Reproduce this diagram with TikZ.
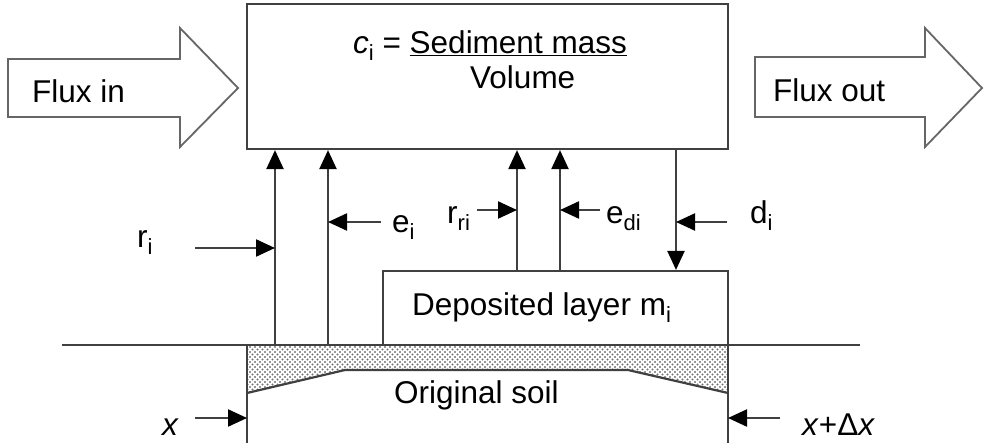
\documentclass[tikz,border=0pt]{standalone}
\usepackage{fontspec}
\setmainfont{Liberation Sans}
\usetikzlibrary{arrows.meta,patterns}
\pgfdeclarepatternformonly{sdots}{\pgfqpoint{-1.2pt}{-1.2pt}}{\pgfqpoint{4pt}{4pt}}{\pgfqpoint{5pt}{5pt}}{%
  \pgfpathcircle{\pgfqpoint{0pt}{0pt}}{1.1pt}%
  \pgfpathcircle{\pgfqpoint{2.5pt}{2.5pt}}{1.1pt}%
  \pgfusepath{fill}}
\newcommand\lsub[1]{\raisebox{-0.45ex}{\fontsize{22}{22}\selectfont #1}}
\begin{document}
\begin{tikzpicture}[x=1pt,y=-1pt,
  ln/.style={line width=2.2pt,draw=black!75},
  arr/.style={ln,-{Triangle[length=19pt,width=17pt,color=black]}},
  fat/.style={line width=1.8pt,draw=black!60,fill=white,line join=miter},
  lbl/.style={anchor=base west,inner sep=0pt,font=\fontsize{31.5}{36}\selectfont},
  boxs/.style={ln,draw,fill=white,inner sep=0pt}]
\useasboundingbox (0,0) rectangle (989,447);
% flux arrows
\draw[fat] (8,59) -- (180,59) -- (180,28) -- (238,88) -- (180,147) -- (180,117) -- (8,117) -- cycle;
\draw[fat] (755,57) -- (925,57) -- (925,28) -- (982,88) -- (925,147) -- (925,117) -- (755,117) -- cycle;
\node[lbl] (fin) at (32,102) {Flux in};
\node[lbl] (fout) at (773,101) {Flux out};
% soil
\coordinate (gl) at (62,345);
\coordinate (gr) at (860,345);
\fill[pattern=sdots,pattern color=black!55] (247,345) -- (728,345) -- (728,393) -- (628,370) -- (345,370) -- (247,393) -- cycle;
\draw[ln] (247,393) -- (345,370) -- (628,370) -- (728,393);
\draw[ln] (gl) -- (gr);
\coordinate (xl) at (247,443);
\coordinate (xr) at (728,443);
\draw[ln] (247,345) -- (xl);
\draw[ln] (728,345) -- (xr);
% boxes
\node[boxs,minimum width=481pt,minimum height=145pt] (box) at (487.5,76.5) {};
\node[boxs,minimum width=345pt,minimum height=74pt] (dep) at (555.5,308) {};
\node[lbl] (ci) at (353,53) {\textit{c}\lsub{i} = \underline{Sediment mass}};
\node[lbl] (vol) at (470,88) {Volume};
\node[lbl] (dept) at (412,315) {Deposited layer m\lsub{i}};
\node[lbl] (orig) at (394,403) {Original soil};
% vertical flux arrows
\coordinate (g1) at (275,345);
\coordinate (g2) at (328,345);
\coordinate (d1) at (517,271);
\coordinate (d2) at (560,271);
\coordinate (d3) at (676,149);
\draw[arr] (g1) -- (g1 |- box.south);
\draw[arr] (g2) -- (g2 |- box.south);
\draw[arr] (d1) -- (d1 |- box.south);
\draw[arr] (d2) -- (d2 |- box.south);
\draw[arr] (d3) -- (d3 |- dep.north);
% pointer arrows and labels
\coordinate (pr) at (195,248);
\draw[arr] (pr) -- (g1 |- pr);
\node[lbl] (ri) at (137,247) {r\lsub{i}};
\coordinate (pe) at (381,222);
\draw[arr] (pe) -- (g2 |- pe);
\node[lbl] (ei) at (392,232) {e\lsub{i}};
\coordinate (prr) at (477,210);
\draw[arr] (prr) -- (d1 |- prr);
\node[lbl] (rri) at (447,223) {r\lsub{ri}};
\coordinate (ped) at (600,210);
\draw[arr] (ped) -- (d2 |- ped);
\node[lbl] (edi) at (606,223) {e\lsub{di}};
\coordinate (pd) at (727,222);
\draw[arr] (pd) -- (d3 |- pd);
\node[lbl] (di) at (750,223) {d\lsub{i}};
\coordinate (px) at (195,418);
\draw[arr] (px) -- (xl |- px);
\node[lbl] (xlab) at (162,435) {\textit{x}};
\coordinate (pxd) at (780,418);
\draw[arr] (pxd) -- (xr |- pxd);
\node[lbl] (xdl) at (802,435) {\textit{x}+Δ\textit{x}};
\end{tikzpicture}
\end{document}
